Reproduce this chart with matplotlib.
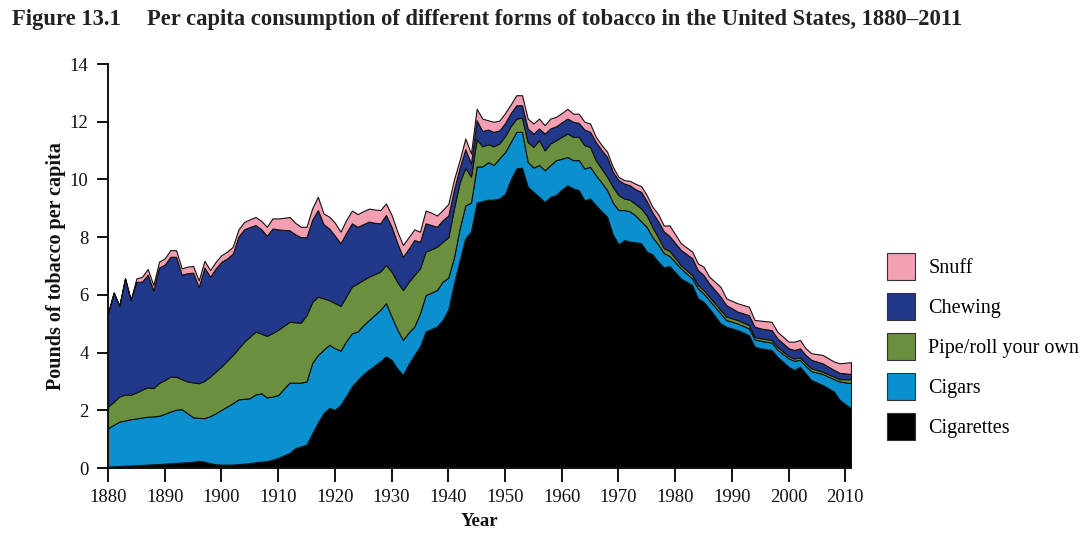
import matplotlib
matplotlib.use("Agg")
import matplotlib.pyplot as plt
from matplotlib.patches import Patch

years = [1880, 1881, 1882, 1883, 1884, 1885, 1886, 1887, 1888, 1889,
         1890, 1891, 1892, 1893, 1894, 1895, 1896, 1897, 1898, 1899,
         1900, 1901, 1902, 1903, 1904, 1905, 1906, 1907, 1908, 1909,
         1910, 1911, 1912, 1913, 1914, 1915, 1916, 1917, 1918, 1919,
         1920, 1921, 1922, 1923, 1924, 1925, 1926, 1927, 1928, 1929,
         1930, 1931, 1932, 1933, 1934, 1935, 1936, 1937, 1938, 1939,
         1940, 1941, 1942, 1943, 1944, 1945, 1946, 1947, 1948, 1949,
         1950, 1951, 1952, 1953, 1954, 1955, 1956, 1957, 1958, 1959,
         1960, 1961, 1962, 1963, 1964, 1965, 1966, 1967, 1968, 1969,
         1970, 1971, 1972, 1973, 1974, 1975, 1976, 1977, 1978, 1979,
         1981, 1983, 1984, 1985, 1986, 1988, 1989, 1991, 1993, 1994,
         1995, 1997, 1998, 2000, 2001, 2002, 2003, 2004, 2006, 2008,
         2009, 2011]

cigarettes = [0.05, 0.06, 0.07, 0.08, 0.09, 0.10, 0.11, 0.12, 0.13, 0.14,
              0.15, 0.17, 0.18, 0.19, 0.20, 0.22, 0.25, 0.22, 0.17, 0.13,
              0.12, 0.12, 0.12, 0.14, 0.15, 0.17, 0.20, 0.22, 0.24, 0.29,
              0.35, 0.44, 0.52, 0.69, 0.75, 0.81, 1.20, 1.58, 1.90, 2.08,
              2.02, 2.19, 2.50, 2.83, 3.05, 3.25, 3.41, 3.55, 3.70, 3.87,
              3.75, 3.45, 3.23, 3.60, 3.92, 4.21, 4.73, 4.82, 4.90, 5.13,
              5.50, 6.40, 7.20, 7.96, 8.20, 9.20, 9.25, 9.30, 9.30, 9.34,
              9.50, 10.00, 10.38, 10.41, 9.75, 9.57, 9.40, 9.22, 9.40, 9.46,
              9.65, 9.80, 9.69, 9.63, 9.28, 9.34, 9.11, 8.90, 8.71, 8.10,
              7.75, 7.90, 7.85, 7.82, 7.79, 7.50, 7.40, 7.15, 6.95, 7.00,
              6.57, 6.34, 5.88, 5.76, 5.53, 5.01, 4.90, 4.78, 4.61, 4.21,
              4.15, 4.09, 3.86, 3.51, 3.40, 3.51, 3.28, 3.05, 2.88, 2.65,
              2.36, 2.07]

cigars = [1.33, 1.44, 1.54, 1.57, 1.60, 1.62, 1.64, 1.66, 1.66, 1.67,
          1.73, 1.79, 1.84, 1.85, 1.70, 1.54, 1.49, 1.51, 1.63, 1.77,
          1.90, 2.01, 2.13, 2.24, 2.25, 2.25, 2.35, 2.37, 2.21, 2.19,
          2.18, 2.31, 2.44, 2.27, 2.21, 2.19, 2.44, 2.34, 2.20, 2.19,
          2.13, 1.88, 1.90, 1.84, 1.68, 1.70, 1.72, 1.75, 1.78, 1.84,
          1.50, 1.35, 1.21, 1.10, 0.98, 1.15, 1.26, 1.26, 1.27, 1.33,
          1.10, 0.90, 1.10, 1.14, 1.00, 1.25, 1.20, 1.30, 1.20, 1.39,
          1.45, 1.30, 1.27, 1.24, 0.86, 0.84, 1.10, 1.10, 1.10, 1.21,
          1.07, 0.98, 0.98, 1.04, 1.10, 1.10, 1.04, 1.00, 0.92, 1.10,
          1.19, 1.04, 1.05, 0.93, 0.76, 0.85, 0.60, 0.60, 0.50, 0.35,
          0.35, 0.23, 0.35, 0.29, 0.29, 0.35, 0.23, 0.23, 0.23, 0.25,
          0.26, 0.26, 0.25, 0.29, 0.32, 0.24, 0.26, 0.31, 0.38, 0.43,
          0.64, 0.87]

pipe_roll = [0.75, 0.80, 0.87, 0.90, 0.85, 0.90, 0.97, 1.02, 0.98, 1.14,
             1.17, 1.21, 1.15, 1.04, 1.10, 1.21, 1.20, 1.29, 1.37, 1.45,
             1.50, 1.59, 1.67, 1.77, 1.98, 2.13, 2.18, 2.07, 2.13, 2.20,
             2.26, 2.18, 2.11, 2.09, 2.08, 2.30, 2.11, 2.02, 1.78, 1.55,
             1.57, 1.55, 1.55, 1.62, 1.67, 1.57, 1.50, 1.42, 1.33, 1.33,
             1.56, 1.65, 1.73, 1.75, 1.79, 1.56, 1.51, 1.50, 1.50, 1.38,
             1.40, 1.70, 1.60, 1.30, 0.90, 0.95, 0.70, 0.62, 0.65, 0.52,
             0.55, 0.55, 0.46, 0.49, 0.69, 0.72, 0.86, 0.69, 0.75, 0.69,
             0.76, 0.81, 0.81, 0.81, 0.81, 0.69, 0.52, 0.48, 0.46, 0.55,
             0.52, 0.40, 0.40, 0.40, 0.45, 0.40, 0.35, 0.25, 0.17, 0.18,
             0.11, 0.12, 0.11, 0.12, 0.12, 0.12, 0.12, 0.12, 0.12, 0.09,
             0.09, 0.09, 0.10, 0.08, 0.08, 0.09, 0.09, 0.10, 0.08, 0.09,
             0.08, 0.14]

chewing = [3.23, 3.78, 3.14, 4.02, 3.28, 3.83, 3.74, 3.90, 3.38, 4.00,
           4.00, 4.15, 4.15, 3.62, 3.75, 3.80, 3.33, 3.93, 3.46, 3.57,
           3.63, 3.54, 3.51, 3.87, 3.89, 3.80, 3.69, 3.62, 3.47, 3.62,
           3.48, 3.32, 3.17, 3.05, 2.96, 2.70, 2.85, 3.00, 2.57, 2.48,
           2.33, 2.17, 2.20, 2.19, 1.96, 1.93, 1.91, 1.78, 1.67, 1.73,
           1.55, 1.35, 1.15, 1.15, 1.21, 0.92, 0.98, 0.84, 0.69, 0.75,
           0.75, 0.65, 0.50, 0.65, 0.45, 0.65, 0.53, 0.51, 0.50, 0.45,
           0.45, 0.45, 0.46, 0.43, 0.47, 0.46, 0.41, 0.58, 0.52, 0.48,
           0.50, 0.52, 0.52, 0.48, 0.54, 0.52, 0.63, 0.65, 0.69, 0.52,
           0.52, 0.52, 0.50, 0.51, 0.57, 0.50, 0.50, 0.55, 0.58, 0.51,
           0.53, 0.58, 0.52, 0.52, 0.46, 0.46, 0.40, 0.29, 0.34, 0.35,
           0.34, 0.34, 0.29, 0.27, 0.29, 0.31, 0.29, 0.29, 0.29, 0.23,
           0.22, 0.18]

snuff = [0.00, 0.00, 0.00, 0.00, 0.00, 0.12, 0.17, 0.20, 0.19, 0.20,
         0.22, 0.23, 0.23, 0.22, 0.23, 0.23, 0.23, 0.23, 0.23, 0.23,
         0.23, 0.24, 0.24, 0.25, 0.26, 0.27, 0.28, 0.29, 0.31, 0.35,
         0.38, 0.42, 0.46, 0.40, 0.36, 0.36, 0.40, 0.46, 0.37, 0.41,
         0.45, 0.40, 0.45, 0.44, 0.44, 0.45, 0.45, 0.46, 0.46, 0.40,
         0.41, 0.40, 0.41, 0.40, 0.37, 0.35, 0.44, 0.43, 0.39, 0.35,
         0.40, 0.35, 0.27, 0.37, 0.35, 0.40, 0.43, 0.32, 0.35, 0.34,
         0.35, 0.30, 0.35, 0.35, 0.34, 0.35, 0.34, 0.29, 0.34, 0.33,
         0.32, 0.34, 0.28, 0.32, 0.27, 0.29, 0.18, 0.17, 0.18, 0.17,
         0.11, 0.12, 0.15, 0.19, 0.20, 0.20, 0.20, 0.25, 0.20, 0.37,
         0.23, 0.23, 0.23, 0.29, 0.23, 0.34, 0.23, 0.29, 0.29, 0.23,
         0.27, 0.29, 0.23, 0.23, 0.29, 0.29, 0.23, 0.23, 0.29, 0.29,
         0.33, 0.41]

labels = ["Cigarettes", "Cigars", "Pipe/roll your own", "Chewing", "Snuff"]
colors = ["#000000", "#0a90cf", "#6a8f3e", "#22388b", "#f29fb2"]

x_ticks = list(range(1880, 2011, 10))
y_ticks = list(range(0, 15, 2))

serif = ["Liberation Serif", "DejaVu Serif"]
plt.rcParams["font.family"] = serif

fig = plt.figure(figsize=(10.91, 5.38), dpi=100)
ax = fig.add_axes([0.099, 0.130, 0.681, 0.751])

ax.stackplot(years, cigarettes, cigars, pipe_roll, chewing, snuff,
             colors=colors, edgecolor="#111111", linewidth=0.8)

ax.set_xlim(1880, 2011)
ax.set_ylim(0, 14)
ax.set_xticks(x_ticks)
ax.set_yticks(y_ticks)
ax.tick_params(axis="x", direction="out", length=10, width=1.4,
               labelsize=13.5, pad=5, colors="#111111")
ax.tick_params(axis="y", direction="out", length=8, width=1.4,
               labelsize=13.5, pad=6, colors="#111111")
for s in ["top", "right"]:
    ax.spines[s].set_visible(False)
for s in ["left", "bottom"]:
    ax.spines[s].set_linewidth(1.4)
    ax.spines[s].set_color("#111111")

ax.set_xlabel("Year", fontsize=13.5, fontweight="bold", labelpad=5,
              color="#111111")
ax.set_ylabel("Pounds of tobacco per capita", fontsize=14.5,
              fontweight="bold", labelpad=3, color="#111111")

fig.text(12 / 1091, 1 - 19 / 538, "Figure 13.1", fontsize=16.3,
         fontweight="bold", va="center", ha="left", color="#222222")
fig.text(147 / 1091, 1 - 19 / 538,
         "Per capita consumption of different forms of tobacco in the United States, 1880\u20132011",
         fontsize=16.3, fontweight="bold", va="center", ha="left",
         color="#222222")

handles = [Patch(facecolor=c, edgecolor="#333333", linewidth=0.8)
           for c in colors]
fig.legend(handles[::-1], labels[::-1], loc="upper left",
           bbox_to_anchor=(887 / 1091, 1 - 253 / 538),
           frameon=False, fontsize=14.5, handlelength=1.4,
           handleheight=1.69, labelspacing=0.64, handletextpad=0.65,
           borderpad=0, borderaxespad=0)

fig.savefig("out.png", dpi=100)
